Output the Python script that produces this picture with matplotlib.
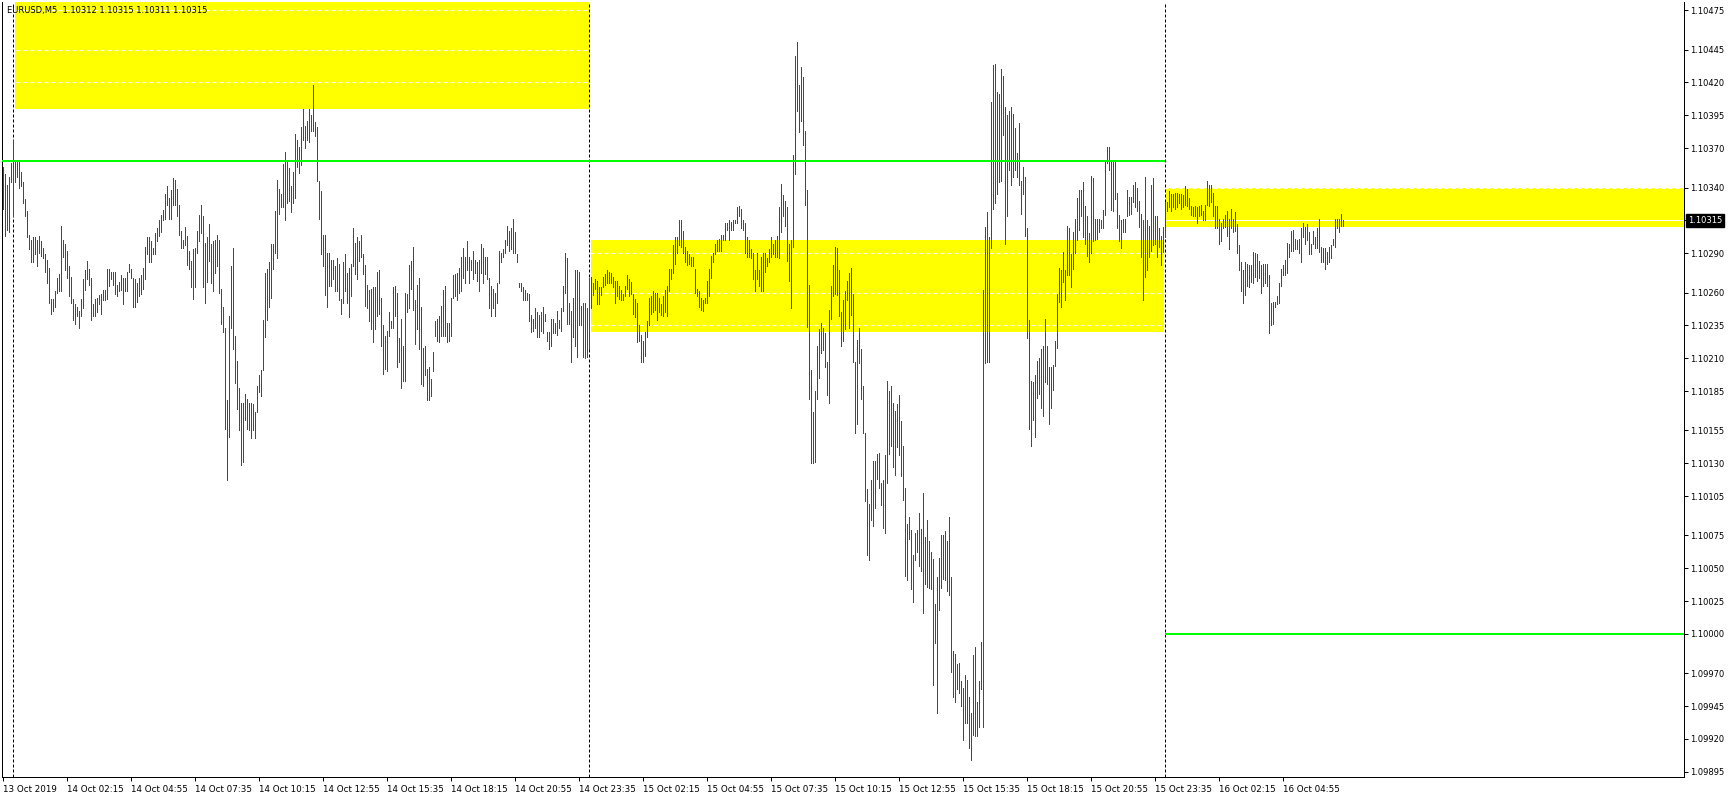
import matplotlib
matplotlib.use("Agg")

import matplotlib.pyplot as plt
import matplotlib.transforms as mtransforms
from matplotlib.patches import Rectangle

# ── Data: EURUSD M5, one entry per bar, in points (1e-5) above 1.10000 ──────
BASE = 1.10000
PT = 0.00001

highs = [
    356, 350, 342, 348, 359, 376, 361, 360, 360, 352,
    344, 331, 322, 304, 300, 302, 302, 300, 303, 299,
    294, 289, 285, 279, 255, 255, 261, 271, 274, 311,
    300, 297, 292, 280, 272, 255, 251, 249, 246, 255,
    270, 277, 284, 278, 271, 251, 255, 256, 258, 259,
    262, 262, 278, 278, 276, 276, 276, 266, 268, 273,
    271, 271, 276, 282, 278, 271, 270, 267, 271, 273,
    279, 295, 302, 302, 299, 294, 305, 309, 315, 319,
    323, 335, 341, 332, 338, 347, 346, 339, 327, 307,
    300, 310, 303, 292, 284, 293, 294, 307, 319, 327,
    318, 298, 302, 312, 297, 299, 300, 304, 300, 263,
    249, 233, 178, 242, 280, 294, 227, 208, 187, 176,
    176, 183, 179, 176, 176, 175, 169, 189, 197, 201,
    239, 275, 278, 283, 297, 297, 322, 346, 339, 335,
    358, 367, 360, 355, 341, 352, 381, 376, 371, 386,
    400, 387, 391, 400, 395, 418, 390, 386, 345, 337,
    304, 304, 290, 290, 285, 285, 280, 286, 282, 255,
    283, 289, 275, 279, 282, 309, 298, 302, 299, 304,
    289, 281, 266, 262, 263, 264, 264, 276, 277, 256,
    235, 227, 231, 245, 238, 264, 265, 260, 225, 240,
    219, 260, 259, 281, 284, 295, 254, 266, 271, 249,
    218, 219, 202, 203, 194, 215, 238, 240, 242, 250,
    262, 265, 237, 237, 256, 273, 274, 275, 279, 287,
    294, 287, 299, 287, 285, 292, 285, 283, 285, 297,
    294, 287, 287, 271, 265, 263, 260, 267, 292, 290,
    293, 300, 311, 307, 309, 316, 306, 289, 267, 267,
    264, 262, 260, 259, 243, 240, 248, 245, 243, 245,
    249, 244, 230, 230, 240, 240, 237, 246, 239, 248,
    265, 290, 286, 252, 246, 256, 277, 277, 276, 250,
    252, 252, 248, 271, 272, 267, 270, 269, 264, 264,
    272, 274, 277, 276, 275, 272, 269, 269, 265, 262,
    259, 265, 273, 270, 268, 259, 255, 252, 235, 228,
    223, 230, 238, 256, 257, 261, 260, 260, 256, 251,
    257, 262, 265, 278, 278, 296, 302, 302, 315, 315,
    307, 295, 292, 289, 287, 287, 278, 263, 261, 256,
    254, 256, 269, 278, 288, 290, 297, 300, 301, 304,
    304, 313, 313, 315, 314, 315, 315, 325, 326, 324,
    315, 313, 302, 300, 293, 290, 277, 290, 277, 287,
    290, 290, 286, 293, 302, 297, 300, 303, 325, 343,
    334, 330, 325, 297, 300, 365, 440, 451, 418, 432,
    424, 383, 338, 266, 201, 169, 185, 219, 232, 237,
    233, 229, 207, 247, 265, 281, 295, 294, 277, 245,
    254, 261, 269, 275, 279, 259, 207, 224, 233, 217,
    189, 153, 110, 99, 117, 132, 132, 137, 138, 115,
    117, 136, 193, 185, 189, 176, 170, 175, 182, 162,
    143, 111, 84, 89, 79, 60, 77, 79, 92, 80,
    107, 74, 87, 71, 62, 57, 23, 43, 58, 75,
    75, 78, 71, 89, 43, -13, -15, -23, -22, -36,
    -41, -31, -35, -48, -60, -16, -10, -52, -36, -6,
    262, 310, 321, 302, 405, 433, 434, 413, 411, 430,
    425, 401, 395, 398, 401, 396, 385, 366, 389, 345,
    356, 348, 309, 239, 193, 192, 197, 208, 210, 217,
    219, 240, 219, 203, 203, 205, 223, 259, 279, 277,
    291, 277, 311, 309, 289, 306, 316, 332, 338, 338,
    344, 326, 318, 305, 349, 347, 316, 316, 316, 315,
    323, 361, 371, 371, 360, 361, 361, 336, 319, 315,
    316, 316, 338, 333, 333, 342, 344, 340, 330, 320,
    315, 348, 315, 311, 342, 347, 318, 318, 309, 303,
    310, 329, 329, 337, 335, 335, 336, 336, 335, 335,
    334, 341, 339, 332, 326, 325, 326, 325, 326, 327,
    322, 327, 345, 342, 342, 336, 326, 326, 316, 313,
    316, 319, 322, 316, 324, 316, 321, 312, 296, 283,
    277, 283, 282, 281, 281, 291, 290, 289, 284, 281,
    282, 282, 282, 273, 252, 253, 253, 257, 267, 278,
    281, 285, 298, 297, 307, 308, 301, 300, 301, 309,
    313, 310, 312, 306, 297, 307, 302, 309, 316, 295,
    294, 294, 291, 295, 296, 301, 316, 316, 316, 320, 315,
]

lows = [
    324, 303, 308, 306, 344, 318, 344, 348, 340, 341,
    328, 318, 302, 293, 283, 283, 289, 280, 290, 288,
    286, 276, 267, 252, 244, 246, 249, 260, 261, 261,
    287, 277, 271, 257, 252, 239, 236, 242, 233, 242,
    248, 262, 270, 266, 239, 242, 242, 245, 251, 244,
    254, 254, 255, 265, 270, 266, 259, 257, 261, 262,
    251, 261, 261, 276, 271, 249, 249, 253, 257, 259,
    263, 270, 289, 283, 283, 289, 289, 299, 303, 306,
    315, 316, 327, 316, 316, 327, 327, 318, 304, 294,
    294, 296, 281, 278, 264, 255, 264, 290, 299, 305,
    264, 252, 268, 284, 267, 261, 275, 280, 260, 236,
    230, 156, 117, 150, 233, 217, 191, 171, 155, 129,
    131, 163, 156, 155, 149, 155, 149, 169, 184, 181,
    201, 226, 239, 249, 256, 278, 290, 286, 320, 325,
    325, 315, 328, 330, 321, 328, 332, 356, 351, 357,
    376, 370, 376, 375, 383, 383, 379, 345, 316, 289,
    280, 258, 249, 265, 265, 270, 261, 261, 254, 244,
    252, 261, 252, 241, 257, 280, 274, 270, 284, 287,
    274, 250, 248, 238, 232, 222, 232, 242, 244, 219,
    198, 202, 200, 227, 233, 233, 242, 203, 207, 187,
    193, 193, 245, 248, 263, 247, 221, 232, 217, 190,
    189, 197, 178, 178, 181, 200, 227, 223, 222, 227,
    227, 227, 222, 223, 227, 256, 257, 254, 260, 261,
    271, 267, 277, 267, 277, 270, 275, 269, 261, 275,
    267, 274, 270, 248, 242, 248, 242, 252, 267, 283,
    287, 290, 296, 292, 293, 290, 290, 283, 264, 261,
    254, 254, 254, 238, 230, 231, 233, 226, 226, 231,
    229, 238, 223, 217, 219, 229, 229, 228, 233, 231,
    246, 260, 236, 236, 207, 226, 219, 211, 235, 235,
    211, 210, 211, 217, 248, 258, 263, 251, 251, 258,
    264, 266, 267, 267, 267, 264, 252, 257, 255, 254,
    254, 257, 263, 257, 259, 244, 241, 222, 223, 207,
    207, 212, 226, 235, 244, 245, 247, 239, 245, 243,
    242, 245, 242, 261, 270, 275, 282, 290, 296, 295,
    290, 283, 281, 282, 280, 280, 260, 257, 249, 247,
    246, 252, 252, 257, 271, 283, 289, 292, 292, 292,
    300, 300, 308, 300, 308, 308, 313, 313, 318, 309,
    308, 290, 287, 287, 286, 270, 261, 270, 265, 261,
    261, 276, 280, 283, 287, 289, 287, 287, 286, 306,
    318, 311, 284, 269, 248, 295, 350, 398, 382, 391,
    372, 327, 234, 179, 130, 130, 131, 179, 195, 214,
    216, 203, 182, 176, 240, 257, 259, 258, 242, 219,
    223, 232, 254, 233, 243, 207, 153, 160, 206, 179,
    153, 101, 60, 56, 87, 82, 96, 118, 111, 98,
    81, 77, 115, 137, 143, 127, 121, 142, 136, 120,
    102, 44, 41, 72, 34, 24, 56, 62, 52, 48,
    16, 38, 36, 35, 34, -39, -7, -60, 18, 35,
    42, 41, 33, 30, -29, -48, -52, -42, -45, -55,
    -81, -68, -68, -87, -96, -77, -78, -78, -71, -42,
    -71, 206, 207, 207, 294, 324, 328, 335, 344, 345,
    380, 297, 318, 353, 342, 348, 353, 348, 342, 320,
    335, 303, 225, 156, 143, 163, 150, 180, 183, 172,
    166, 192, 190, 160, 172, 186, 204, 218, 253, 249,
    268, 254, 273, 273, 264, 278, 290, 300, 308, 318,
    302, 297, 288, 283, 290, 299, 300, 301, 306, 309,
    309, 319, 359, 353, 323, 322, 331, 309, 299, 294,
    306, 306, 318, 319, 320, 329, 325, 322, 310, 287,
    254, 272, 277, 287, 292, 296, 297, 287, 295, 281,
    291, 302, 322, 325, 322, 325, 324, 325, 328, 324,
    325, 327, 326, 324, 319, 318, 318, 313, 318, 319,
    315, 315, 327, 326, 329, 318, 309, 309, 297, 299,
    309, 310, 303, 293, 309, 306, 307, 290, 277, 261,
    252, 258, 265, 264, 268, 267, 272, 269, 271, 260,
    265, 267, 265, 229, 235, 236, 249, 251, 252, 265,
    273, 273, 275, 287, 292, 292, 293, 293, 290, 283,
    302, 297, 300, 289, 289, 297, 294, 294, 291, 283,
    283, 278, 282, 283, 286, 296, 295, 309, 306, 311, 311,
]

time_labels = [
    "13 Oct 2019", "14 Oct 02:15", "14 Oct 04:55", "14 Oct 07:35",
    "14 Oct 10:15", "14 Oct 12:55", "14 Oct 15:35", "14 Oct 18:15",
    "14 Oct 20:55", "14 Oct 23:35", "15 Oct 02:15", "15 Oct 04:55",
    "15 Oct 07:35", "15 Oct 10:15", "15 Oct 12:55", "15 Oct 15:35",
    "15 Oct 18:15", "15 Oct 20:55", "15 Oct 23:35", "16 Oct 02:15",
    "16 Oct 04:55",
]
BARS_PER_LABEL = 32

price_ticks = [475, 445, 420, 395, 370, 340, 315, 290, 260, 235, 210, 185,
               155, 130, 105, 75, 50, 25, 0, -30, -55, -80, -105]
BID = 315
header = "EURUSD,M5  1.10312 1.10315 1.10311 1.10315"

day_starts = [5, 293, 581]                 # bar index of 00:00
# zones: (first bar, last bar, low pts, high pts)
zones = [(6, 293, 400, 600), (294, 580.4, 230, 300), (581.3, 1000, 310, 340)]
# levels: (first bar, last bar, pts)
levels = [(-10, 581, 360), (581, 1000, 0)]

RED = "#f00000"
YELLOW = "#ffff00"
GREEN = "#00ff00"
PX = 0.72  # one pixel in points at 100 dpi


def p(v):
    return BASE + v * PT


fig = plt.figure(figsize=(17.29, 8.0), dpi=100)
fig.patch.set_facecolor("white")
ax = fig.add_axes([2 / 1729, 23 / 800, 1681.5 / 1729, 775 / 800])
ax.set_facecolor("white")

ax.set_xlim(-0.65, 840.1)
ax.set_ylim(p(-109), p(481.3))

# zones (background)
for x0, x1, lo, hi in zones:
    ax.add_patch(Rectangle((x0, p(lo)), x1 - x0, p(hi) - p(lo),
                           facecolor=YELLOW, edgecolor="none", zorder=0.3))

# grid: white dashed, only visible over the zones
ax.set_axisbelow(True)
ax.yaxis.grid(True, color="white", linewidth=PX, linestyle=(0, (4, 3)))
ax.xaxis.grid(False)

# bid line
ax.axhline(p(BID), color="white", linewidth=PX, zorder=0.6)

# day separators
for d in day_starts:
    ax.axvline(d, color="black", linewidth=PX, linestyle=(0, (3, 2)), zorder=1)

# bars
xs = list(range(len(highs)))
ax.vlines(xs, [p(v) for v in lows], [p(v) for v in highs],
          colors=RED, linewidth=PX, antialiased=False, zorder=2)

# horizontal levels
for x0, x1, v in levels:
    ax.hlines(p(v), x0, x1, colors=GREEN, linewidth=2 * PX, zorder=3)

# axes styling
for s in ("left", "bottom", "right"):
    ax.spines[s].set_linewidth(PX)
    ax.spines[s].set_color("black")
ax.spines["top"].set_visible(False)

ax.yaxis.tick_right()
ax.set_yticks([p(v) for v in price_ticks])
ax.set_yticklabels(["" if v == BID else f"{p(v):.5f}" for v in price_ticks])
ax.tick_params(axis="y", direction="out", length=3, width=PX, pad=1.5,
               labelsize=6.0, colors="black")

ax.set_xticks([i * BARS_PER_LABEL for i in range(len(time_labels))])
ax.set_xticklabels(time_labels, ha="left")
ax.tick_params(axis="x", direction="out", length=3, width=PX, pad=2.5,
               labelsize=6.3, colors="black")

# bid label on the price scale
blend = mtransforms.blended_transform_factory(ax.transAxes, ax.transData)
ax.text(1.0025, p(BID), f"{p(BID):.5f}", transform=blend, ha="left", va="center",
        fontsize=6.0, color="white", clip_on=False, zorder=5,
        bbox=dict(boxstyle="square,pad=0.2", fc="black", ec="black"))

# header
ax.text(5 / 1681.5, 1 - 8 / 775, header, transform=ax.transAxes,
        ha="left", va="center", fontsize=6.0, color="black", zorder=5)

fig.savefig("out.png", dpi=100, facecolor="white")
plt.close(fig)
